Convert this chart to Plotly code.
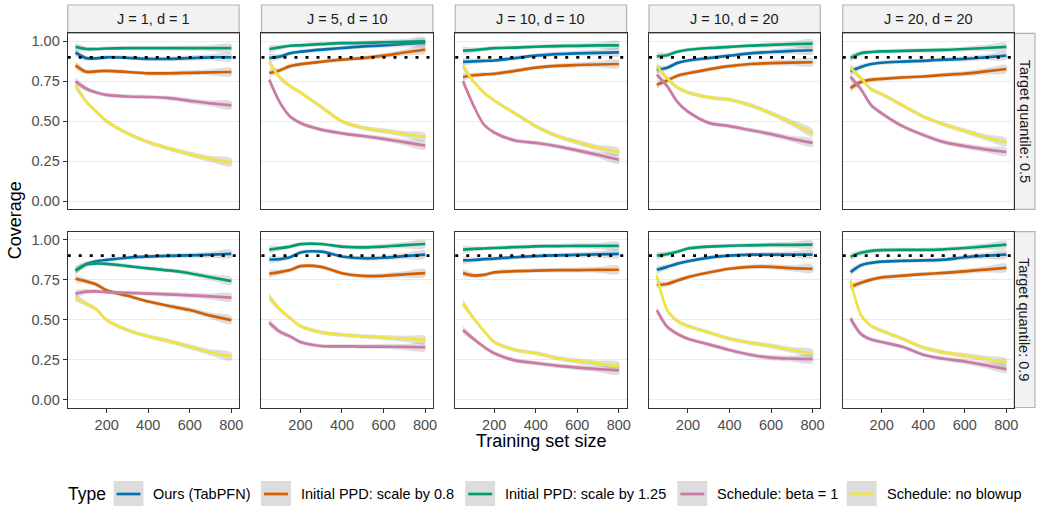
import plotly.graph_objects as go

# ---------------- data ----------------
x_sizes = [50, 100, 150, 200, 300, 400, 500, 600, 700, 800]
panel_labels = ["J = 1, d = 1", "J = 5, d = 10", "J = 10, d = 10", "J = 10, d = 20", "J = 20, d = 20"]
row_labels = ["Target quantile: 0.5", "Target quantile: 0.9"]
type_names = ["Ours (TabPFN)", "Initial PPD: scale by 0.8", "Initial PPD: scale by 1.25",
              "Schedule: beta = 1", "Schedule: no blowup"]
type_colors = ["#0072B2", "#D55E00", "#009E73", "#CC79A7", "#F0E442"]
target_coverage = 0.9
y_tick_vals = [0, 0.25, 0.5, 0.75, 1.0]
y_tick_text = ["0.00", "0.25", "0.50", "0.75", "1.00"]
x_tick_vals = [200, 400, 600, 800]
band_halfwidth = [0.025, 0.016, 0.013, 0.013, 0.013, 0.013, 0.014, 0.016, 0.019, 0.025]

# target quantile 0.5 (one list per panel)
q50_ours = [
    [0.93, 0.895, 0.893, 0.90, 0.897, 0.89, 0.89, 0.895, 0.90, 0.90],
    [0.896, 0.904, 0.925, 0.935, 0.948, 0.958, 0.968, 0.975, 0.983, 0.99],
    [0.871, 0.875, 0.878, 0.88, 0.895, 0.91, 0.92, 0.925, 0.928, 0.931],
    [0.823, 0.835, 0.865, 0.88, 0.895, 0.91, 0.925, 0.933, 0.94, 0.944],
    [0.8125, 0.84, 0.858, 0.866, 0.873, 0.878, 0.885, 0.89, 0.90, 0.91],
]
q50_scale08 = [
    [0.85, 0.81, 0.812, 0.815, 0.808, 0.80, 0.80, 0.803, 0.806, 0.808],
    [0.802, 0.818, 0.845, 0.857, 0.872, 0.885, 0.895, 0.91, 0.93, 0.948],
    [0.777, 0.788, 0.793, 0.797, 0.815, 0.835, 0.847, 0.852, 0.855, 0.858],
    [0.729, 0.755, 0.785, 0.80, 0.825, 0.845, 0.858, 0.864, 0.867, 0.869],
    [0.708, 0.745, 0.76, 0.765, 0.774, 0.78, 0.79, 0.798, 0.812, 0.827],
]
q50_scale125 = [
    [0.965, 0.952, 0.952, 0.955, 0.957, 0.957, 0.957, 0.957, 0.957, 0.957],
    [0.952, 0.962, 0.972, 0.975, 0.982, 0.988, 0.99, 0.994, 0.997, 1.0],
    [0.942, 0.945, 0.951, 0.957, 0.961, 0.966, 0.97, 0.972, 0.974, 0.975],
    [0.906, 0.913, 0.935, 0.947, 0.958, 0.965, 0.973, 0.978, 0.982, 0.985],
    [0.896, 0.925, 0.933, 0.937, 0.94, 0.943, 0.946, 0.952, 0.958, 0.965],
]
q50_beta1 = [
    [0.75, 0.705, 0.68, 0.665, 0.655, 0.652, 0.645, 0.628, 0.612, 0.60],
    [0.76, 0.62, 0.53, 0.49, 0.448, 0.425, 0.408, 0.39, 0.37, 0.348],
    [0.75, 0.60, 0.48, 0.43, 0.38, 0.365, 0.345, 0.318, 0.29, 0.26],
    [0.792, 0.72, 0.62, 0.56, 0.49, 0.47, 0.445, 0.42, 0.39, 0.365],
    [0.777, 0.70, 0.60, 0.55, 0.47, 0.415, 0.37, 0.345, 0.325, 0.308],
]
q50_noblowup = [
    [0.723, 0.625, 0.56, 0.50, 0.425, 0.37, 0.33, 0.295, 0.265, 0.244],
    [0.869, 0.775, 0.72, 0.68, 0.59, 0.50, 0.46, 0.44, 0.42, 0.402],
    [0.844, 0.75, 0.68, 0.63, 0.55, 0.47, 0.41, 0.37, 0.335, 0.308],
    [0.844, 0.77, 0.71, 0.68, 0.65, 0.635, 0.60, 0.55, 0.49, 0.427],
    [0.833, 0.77, 0.70, 0.67, 0.60, 0.53, 0.48, 0.44, 0.40, 0.369],
]

# target quantile 0.9
q90_ours = [
    [0.807, 0.847, 0.865, 0.874, 0.887, 0.894, 0.899, 0.902, 0.906, 0.911],
    [0.876, 0.878, 0.89, 0.92, 0.925, 0.895, 0.884, 0.887, 0.897, 0.907],
    [0.87, 0.873, 0.878, 0.882, 0.89, 0.897, 0.902, 0.905, 0.908, 0.911],
    [0.812, 0.83, 0.85, 0.865, 0.888, 0.90, 0.906, 0.907, 0.907, 0.907],
    [0.797, 0.84, 0.855, 0.863, 0.868, 0.87, 0.875, 0.89, 0.90, 0.907],
]
q90_scale08 = [
    [0.756, 0.74, 0.72, 0.683, 0.649, 0.613, 0.585, 0.56, 0.525, 0.497],
    [0.787, 0.797, 0.81, 0.835, 0.83, 0.79, 0.773, 0.774, 0.783, 0.791],
    [0.791, 0.776, 0.78, 0.795, 0.803, 0.807, 0.809, 0.81, 0.811, 0.812],
    [0.718, 0.723, 0.745, 0.766, 0.795, 0.818, 0.83, 0.83, 0.822, 0.818],
    [0.704, 0.73, 0.75, 0.764, 0.775, 0.785, 0.792, 0.802, 0.813, 0.824],
]
q90_scale125 = [
    [0.807, 0.845, 0.851, 0.849, 0.835, 0.82, 0.808, 0.79, 0.765, 0.741],
    [0.938, 0.947, 0.957, 0.972, 0.973, 0.956, 0.952, 0.957, 0.966, 0.973],
    [0.938, 0.942, 0.945, 0.948, 0.953, 0.958, 0.96, 0.961, 0.961, 0.961],
    [0.90, 0.91, 0.925, 0.945, 0.957, 0.962, 0.965, 0.967, 0.968, 0.969],
    [0.894, 0.918, 0.93, 0.935, 0.936, 0.936, 0.94, 0.948, 0.958, 0.969],
]
q90_beta1 = [
    [0.6625, 0.675, 0.677, 0.672, 0.667, 0.663, 0.658, 0.652, 0.645, 0.638],
    [0.48, 0.425, 0.395, 0.36, 0.335, 0.333, 0.331, 0.331, 0.329, 0.327],
    [0.435, 0.38, 0.33, 0.29, 0.245, 0.228, 0.212, 0.20, 0.19, 0.182],
    [0.559, 0.455, 0.41, 0.38, 0.345, 0.31, 0.28, 0.262, 0.256, 0.253],
    [0.507, 0.41, 0.375, 0.36, 0.33, 0.28, 0.255, 0.238, 0.215, 0.19],
]
q90_noblowup = [
    [0.636, 0.60, 0.565, 0.497, 0.435, 0.395, 0.365, 0.33, 0.295, 0.269],
    [0.642, 0.565, 0.51, 0.46, 0.42, 0.405, 0.395, 0.388, 0.38, 0.373],
    [0.60, 0.51, 0.43, 0.36, 0.31, 0.29, 0.26, 0.24, 0.225, 0.211],
    [0.776, 0.56, 0.49, 0.46, 0.42, 0.38, 0.355, 0.335, 0.31, 0.29],
    [0.745, 0.53, 0.46, 0.43, 0.38, 0.325, 0.295, 0.275, 0.255, 0.232],
]

rows_data = [
    [q50_ours, q50_scale08, q50_scale125, q50_beta1, q50_noblowup],
    [q90_ours, q90_scale08, q90_scale125, q90_beta1, q90_noblowup],
]

# ---------------- layout geometry (pixels) ----------------
W, H = 1040, 508
FONT = "Liberation Sans, Arial, sans-serif"
col_lefts = [68 + 194.5 * c for c in range(5)]
col_w = 172
row_tops = [33.3, 231.7]
row_bots = [209.3, 407.5]
strip_top = 5
strip_right_x = (1018, 1039)


def px(x):
    return x / W


def py(y):
    return 1 - y / H


fig = go.Figure()
layout_axes = {}
shapes = []
annotations = []

for r in range(2):
    for c in range(5):
        k = r * 5 + c + 1
        xa = "x" if k == 1 else f"x{k}"
        ya = "y" if k == 1 else f"y{k}"
        for t in range(5):
            vals = rows_data[r][t][c]
            upper = [v + h for v, h in zip(vals, band_halfwidth)]
            lower = [v - h for v, h in zip(vals, band_halfwidth)]
            fig.add_trace(go.Scatter(
                x=x_sizes + x_sizes[::-1], y=upper + lower[::-1],
                fill="toself", fillcolor="rgba(153,153,153,0.32)",
                line=dict(width=0, shape="spline", smoothing=0.8),
                mode="lines", hoverinfo="skip", showlegend=False,
                xaxis=xa, yaxis=ya))
            fig.add_trace(go.Scatter(
                x=x_sizes, y=vals, mode="lines",
                line=dict(color=type_colors[t], width=2.7, shape="spline", smoothing=0.8),
                name=type_names[t], showlegend=False, xaxis=xa, yaxis=ya))

        xkey = "xaxis" if k == 1 else f"xaxis{k}"
        ykey = "yaxis" if k == 1 else f"yaxis{k}"
        layout_axes[xkey] = dict(
            domain=[px(col_lefts[c]), px(col_lefts[c] + col_w)],
            anchor=ya, range=[12.5, 837.5],
            showgrid=False, zeroline=False,
            showline=True, mirror=True, linecolor="#333333", linewidth=1.2,
            tickvals=x_tick_vals,
            ticks="outside" if r == 1 else "", ticklen=4, tickcolor="#333333",
            showticklabels=(r == 1),
            tickfont=dict(family=FONT, size=14.5, color="#4D4D4D"),
        )
        layout_axes[ykey] = dict(
            domain=[py(row_bots[r]), py(row_tops[r])],
            anchor=xa, range=[-0.05, 1.05],
            showgrid=True, gridcolor="#EBEBEB", gridwidth=1.2, zeroline=False,
            showline=True, mirror=True, linecolor="#333333", linewidth=1.2,
            tickvals=y_tick_vals, ticktext=y_tick_text,
            ticks="outside" if c == 0 else "", ticklen=4, tickcolor="#333333",
            showticklabels=(c == 0),
            tickfont=dict(family=FONT, size=14.5, color="#4D4D4D"),
        )
        # target dotted reference line
        shapes.append(dict(
            type="line", xref=f"{xa} domain", yref=ya, x0=0, x1=1,
            y0=target_coverage, y1=target_coverage,
            line=dict(color="black", width=2.8, dash="3px,8px"), layer="above"))

# top strips
for c in range(5):
    shapes.append(dict(type="rect", xref="paper", yref="paper",
                       x0=px(col_lefts[c]), x1=px(col_lefts[c] + col_w),
                       y0=py(row_tops[0]), y1=py(strip_top),
                       fillcolor="#F2F2F2", line=dict(color="#B3B3B3", width=1.2),
                       layer="below"))
    annotations.append(dict(text=panel_labels[c], xref="paper", yref="paper",
                            x=px(col_lefts[c] + col_w / 2), y=py((strip_top + row_tops[0]) / 2),
                            showarrow=False, xanchor="center", yanchor="middle",
                            font=dict(family=FONT, size=14.5, color="#1A1A1A")))
# right strips
for r in range(2):
    shapes.append(dict(type="rect", xref="paper", yref="paper",
                       x0=px(strip_right_x[0]), x1=px(strip_right_x[1]),
                       y0=py(row_bots[r]), y1=py(row_tops[r]),
                       fillcolor="#F2F2F2", line=dict(color="#B3B3B3", width=1.2),
                       layer="below"))
    annotations.append(dict(text=row_labels[r], xref="paper", yref="paper",
                            x=px(sum(strip_right_x) / 2), y=py((row_tops[r] + row_bots[r]) / 2),
                            showarrow=False, xanchor="center", yanchor="middle", textangle=90,
                            font=dict(family=FONT, size=14.5, color="#1A1A1A")))

# axis titles
annotations.append(dict(text="Coverage", xref="paper", yref="paper",
                        x=px(15), y=py((row_tops[0] + row_bots[1]) / 2),
                        showarrow=False, textangle=-90, xanchor="center", yanchor="middle",
                        font=dict(family=FONT, size=18, color="black")))
annotations.append(dict(text="Training set size", xref="paper", yref="paper",
                        x=px((col_lefts[0] + col_lefts[4] + col_w) / 2), y=py(441),
                        showarrow=False, xanchor="center", yanchor="middle",
                        font=dict(family=FONT, size=18, color="black")))

# manual legend
legend_y = 494
annotations.append(dict(text="Type", xref="paper", yref="paper", x=px(66), y=py(legend_y),
                        showarrow=False, xanchor="left", yanchor="middle",
                        font=dict(family=FONT, size=17.5, color="black")))
key_lefts = [114, 262, 467, 680, 850]
for t in range(5):
    kx = key_lefts[t]
    shapes.append(dict(type="rect", xref="paper", yref="paper",
                       x0=px(kx), x1=px(kx + 30), y0=py(506), y1=py(481),
                       fillcolor="#DCDCDC", line=dict(width=0), layer="above"))
    shapes.append(dict(type="line", xref="paper", yref="paper",
                       x0=px(kx + 3), x1=px(kx + 27), y0=py(legend_y), y1=py(legend_y),
                       line=dict(color=type_colors[t], width=2.7), layer="above"))
    annotations.append(dict(text=type_names[t], xref="paper", yref="paper",
                            x=px(kx + 38), y=py(legend_y),
                            showarrow=False, xanchor="left", yanchor="middle",
                            font=dict(family=FONT, size=14.5, color="black")))

fig.update_layout(
    width=W, height=H, margin=dict(l=0, r=0, t=0, b=0),
    paper_bgcolor="white", plot_bgcolor="white",
    showlegend=False, shapes=shapes, annotations=annotations,
    **layout_axes,
)

fig.write_html("out.html")
